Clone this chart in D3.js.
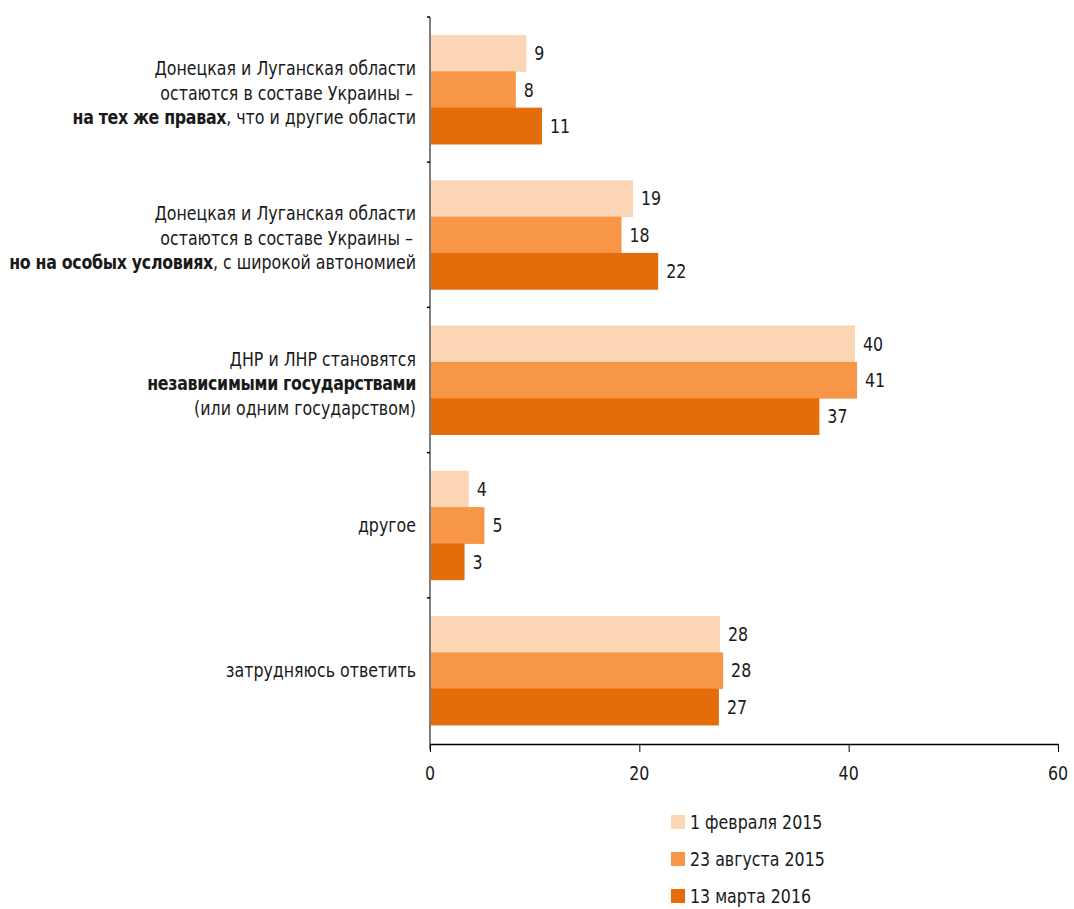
<!DOCTYPE html>
<html><head><meta charset="utf-8">
<script src="https://cdn.jsdelivr.net/npm/d3@7"></script>
<style>
body{margin:0;background:#fff;}
text{font-family:"DejaVu Sans Condensed","Liberation Sans Narrow","Roboto",sans-serif;fill:#1a1a1a;}
</style></head>
<body>
<svg id="chart" width="1074" height="909"></svg>
<script>
// categories: each a list of lines, each line a list of [text, bold]
const categories = [
  [[["Донецкая и Луганская области",0]],[["остаются в составе Украины –\u2009",0]],[["на тех же правах",1],[", что и другие области",0]]],
  [[["Донецкая и Луганская области",0]],[["остаются в составе Украины –\u2009",0]],[["но на особых условиях",1],[", с широкой автономией",0]]],
  [[["ДНР и ЛНР становятся",0]],[["независимыми государствами",1]],[["(или одним государством)",0]]],
  [[["другое",0]]],
  [[["затрудняюсь ответить",0]]]
];
const seriesNames = ["1 февраля 2015","23 августа 2015","13 марта 2016"];
const seriesColors = ["#FCD5B5","#F79646","#E46C0A"];
// bar lengths
const feb2015 = [9.2, 19.4, 40.6, 3.7, 27.7];
const aug2015 = [8.2, 18.3, 40.8, 5.2, 28.0];
const mar2016 = [10.7, 21.8, 37.2, 3.3, 27.6];
// printed labels
const feb2015Labels = [9, 19, 40, 4, 28];
const aug2015Labels = [8, 18, 41, 5, 28];
const mar2016Labels = [11, 22, 37, 3, 27];
const xTicks = [0, 20, 40, 60];

const series = [feb2015, aug2015, mar2016];
const seriesLabels = [feb2015Labels, aug2015Labels, mar2016Labels];

const FS = 20, SX = 0.88;
const svg = d3.select("#chart");
// condensed text helper
function ctext(parent, tx, ty, anchor) {
  return parent.append("g").attr("transform", `translate(${tx},${ty}) scale(${SX},1)`)
    .append("text").attr("x", 0).attr("y", 0).attr("dy", "0.35em")
    .attr("text-anchor", anchor || "start").attr("font-size", FS);
}

const x = d3.scaleLinear().domain([0, 60]).range([430, 1058]);
const y = d3.scaleBand().domain(d3.range(categories.length)).range([15, 745]).paddingInner(0.25).paddingOuter(0.138);
const ySub = d3.scaleBand().domain(d3.range(series.length)).range([0, y.bandwidth()]).padding(0);

// bars
const groups = svg.append("g").selectAll("g").data(categories).join("g")
  .attr("transform", (d, i) => `translate(0,${y(i)})`);
groups.each(function(cat, ci) {
  const g = d3.select(this);
  series.forEach((s, si) => {
    g.append("rect")
      .attr("x", x(0)).attr("y", ySub(si))
      .attr("width", x(s[ci]) - x(0)).attr("height", ySub.bandwidth() + 0.5)
      .attr("fill", seriesColors[si]);
  });
  series.forEach((s, si) => {
    ctext(g, x(s[ci]) + 8, ySub(si) + ySub.bandwidth() / 2).text(seriesLabels[si][ci]);
  });
});

// y axis line
svg.append("line").attr("x1", 430).attr("x2", 430).attr("y1", 17).attr("y2", 750)
  .attr("stroke", "#7f7f7f").attr("stroke-width", 2);
// small boundary ticks
const bounds = d3.range(categories.length).map(i => i === 0 ? 17 : y(i) - y.step() * y.paddingInner() / 2);
svg.selectAll(".ytick").data(bounds).join("line")
  .attr("x1", 427).attr("x2", 430).attr("y1", d => d).attr("y2", d => d)
  .attr("stroke", "#000").attr("stroke-width", 1.5);

// x axis
const xAxis = svg.append("g").attr("transform", "translate(0,744)")
  .call(d3.axisBottom(x).tickValues(xTicks).tickSize(8).tickPadding(12).tickSizeOuter(0).tickFormat(() => ""));
xAxis.select(".domain").attr("stroke", "#000").attr("stroke-width", 1.5);
xAxis.selectAll(".tick line").attr("stroke", "#000").attr("stroke-width", 1);
xTicks.forEach(t => ctext(svg, x(t), 773, "middle").text(t));

// category labels
const lineH = 24.5;
categories.forEach((lines, ci) => {
  const cy = y(ci) + y.bandwidth() / 2 + (lines.length > 1 ? 3 : 0);
  const top = cy - (lines.length - 1) * lineH / 2;
  lines.forEach((segs, li) => {
    const t = ctext(svg, 416, top + li * lineH, "end");
    segs.forEach(([txt, b]) => {
      t.append("tspan").attr("font-weight", b ? "bold" : "normal")
        .attr("letter-spacing", b ? -0.35 : 0).text(txt);
    });
  });
});

// legend
const leg = svg.append("g").attr("transform", "translate(671,822)");
seriesNames.forEach((n, i) => {
  const row = leg.append("g").attr("transform", `translate(0,${i * 37})`);
  row.append("rect").attr("x", 0).attr("y", -7).attr("width", 14).attr("height", 14).attr("fill", seriesColors[i]);
  ctext(row, 19, 0).text(n);
});
</script>
</body></html>
